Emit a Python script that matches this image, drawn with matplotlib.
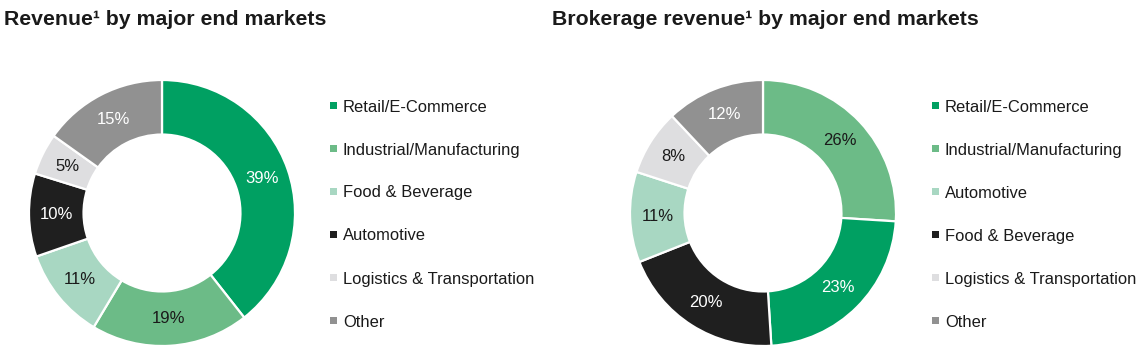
import matplotlib
matplotlib.use("Agg")
import numpy as np
import matplotlib.pyplot as plt
from matplotlib.patches import Rectangle

plt.rcParams["font.family"] = ["Liberation Sans", "DejaVu Sans"]

# -------------------------------------------------------------------
# Data
# -------------------------------------------------------------------
left_title = "Revenue\u00b9 by major end markets"
left_legend = ["Retail/E-Commerce", "Industrial/Manufacturing", "Food & Beverage",
               "Automotive", "Logistics & Transportation", "Other"]
left_values = [39, 19, 11, 10, 5, 15]          # clockwise from 12 o'clock

right_title = "Brokerage revenue\u00b9 by major end markets"
right_legend = ["Retail/E-Commerce", "Industrial/Manufacturing", "Automotive",
                "Food & Beverage", "Logistics & Transportation", "Other"]
# clockwise from 12 o'clock
right_slices = ["Industrial/Manufacturing", "Retail/E-Commerce", "Food & Beverage",
                "Automotive", "Logistics & Transportation", "Other"]
right_values = [26, 23, 20, 11, 8, 12]

# legend position -> colour
palette = ["#00a062", "#6cbb87", "#a8d7c2", "#1f1f1f", "#dedee0", "#919191"]
white_text = {"#00a062", "#1f1f1f", "#919191"}

W, H = 1140, 350
fig = plt.figure(figsize=(W / 100, H / 100), dpi=100)


def donut(cx, cy, r, values, colors):
    ax = fig.add_axes([(cx - r) / W, (H - cy - r) / H, 2 * r / W, 2 * r / H])
    wedges, _ = ax.pie(values, colors=colors, startangle=90, counterclock=False,
                       radius=1, wedgeprops=dict(width=0.41, edgecolor="white",
                                                 linewidth=1.6))
    for w in wedges:
        w.set_clip_on(False)
    for w, v, c in zip(wedges, values, colors):
        ang = np.deg2rad((w.theta1 + w.theta2) / 2)
        ax.text(0.795 * np.cos(ang), 0.795 * np.sin(ang), f"{v}%",
                ha="center", va="center", fontsize=12,
                color="white" if c in white_text else "#1a1a1a")
    ax.set_xlim(-1, 1)
    ax.set_ylim(-1, 1)
    ax.axis("off")


def legend(mx, tx, labels):
    baselines = [111.5, 155, 197.5, 240.5, 284, 327]
    for lab, col, y in zip(labels, palette, baselines):
        fig.patches.append(Rectangle((mx / W, (H - y + 2.7) / H), 7 / W, 7 / H,
                                     transform=fig.transFigure, facecolor=col,
                                     edgecolor="none"))
        fig.text(tx / W, (H - y) / H, lab, ha="left", va="baseline",
                 fontsize=11.9, color="#1a1a1a")


# left chart
donut(162, 213, 133, left_values, palette)
legend(330, 343, left_legend)
fig.text(4 / W, 1 - 25 / H, left_title, fontsize=15.3, fontweight="bold",
         color="#1a1a1a", va="baseline")

# right chart
right_colors = [palette[right_legend.index(s)] for s in right_slices]
donut(763, 213, 133, right_values, right_colors)
legend(932, 945, right_legend)
fig.text(552 / W, 1 - 25 / H, right_title, fontsize=15.3, fontweight="bold",
         color="#1a1a1a", va="baseline")

fig.savefig("out.png", dpi=100)
